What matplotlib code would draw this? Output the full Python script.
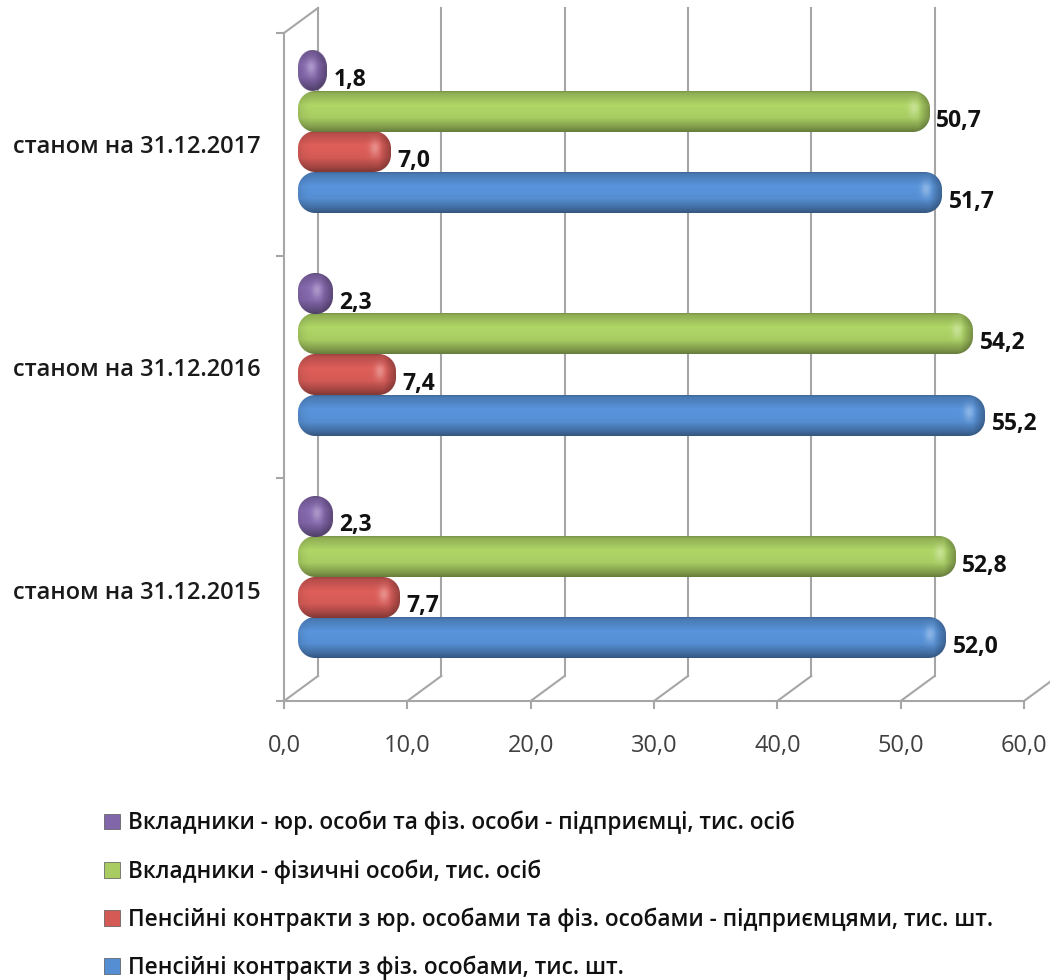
import numpy as np
import matplotlib
matplotlib.use("Agg")
import matplotlib.pyplot as plt
from matplotlib.patches import Patch

plt.rcParams['font.family'] = ['Open Sans', 'DejaVu Sans']

# DATA
categories = ["станом на 31.12.2015", "станом на 31.12.2016", "станом на 31.12.2017"]
series_names = [
    "Пенсійні контракти з фіз. особами, тис. шт.",
    "Пенсійні контракти з юр. особами та фіз. особами - підприємцями, тис. шт.",
    "Вкладники - фізичні особи, тис. осіб",
    "Вкладники - юр. особи та фіз. особи - підприємці, тис. осіб",
]
contracts_phys = [52.0, 55.2, 51.7]
contracts_legal = [7.7, 7.4, 7.0]
depositors_phys = [52.8, 54.2, 50.7]
depositors_legal = [2.3, 2.3, 1.8]
xtick_values = [0, 10, 20, 30, 40, 50, 60]

all_series = [contracts_phys, contracts_legal, depositors_phys, depositors_legal]
colors = ["#558ed2", "#d45a56", "#a8cc62", "#8266aa"]

GRID = "#a6a6a6"
DEPTH_X = 60 * 34 / 740     # the 3D wall sits behind the front axes plane
DEPTH_Y = 3 * 25 / 668
BAR_H = 0.182
PX_X = 740 / 60             # pixels per data unit
PX_Y = 668 / 3
CAP = 0.5                   # rounded end sticks out past the value
BAR_LEFT = 14 / PX_X


def bar_image(color, w, h):
    """RGBA picture of one rounded, shaded bar, w x h pixels"""
    base = np.array(matplotlib.colors.to_rgb(color))
    xx, yy = np.meshgrid(np.arange(w) + 0.5, np.arange(h) + 0.5)
    t = yy / h
    # vertical shading: dim rim on top, bright middle, dark bottom
    shade = np.interp(t, [0, 0.06, 0.35, 0.65, 0.88, 1], [0.72, 0.86, 1.05, 1.0, 0.76, 0.6])
    # darker at the right end, a bit at the left
    from_right = w - xx
    shade = shade * np.interp(from_right, [0, 6, 12], [0.68, 0.84, 1.0])
    shade = shade * np.interp(xx, [0, 5, 12], [0.9, 0.96, 1.0])
    rgb = np.clip(shade[..., None] * base, 0, 1)
    # small highlight near the end of the bar
    cx = w - min(16, w * 0.55)
    spot = np.exp(-((xx - cx) / 5.0) ** 2 - ((t - 0.42) * h / 8.0) ** 2)
    rgb = rgb + (1 - rgb) * 0.3 * spot[..., None]
    # rounded rectangle mask, corners turn elliptic on the short bars
    ry = h * 0.42
    rx = min(ry, w / 2)
    dx = np.maximum(np.maximum(rx - xx, xx - (w - rx)), 0) / rx
    dy = np.maximum(np.maximum(ry - yy, yy - (h - ry)), 0) / ry
    alpha = np.clip((1 - np.hypot(dx, dy)) * rx + 0.5, 0, 1)
    return np.dstack([rgb, alpha])


fig = plt.figure(figsize=(10.5, 9.8), dpi=100)
ax = fig.add_axes([284 / 1050, 279 / 980, 740 / 1050, 668 / 980])
ax.set_xlim(0, 60)
ax.set_ylim(0, 3)
ax.set_autoscale_on(False)

# back wall and floor lines
for x in xtick_values[:-1]:
    ax.plot([x + DEPTH_X, x + DEPTH_X], [DEPTH_Y, 3 + DEPTH_Y], color=GRID, lw=1.5, clip_on=False, zorder=1)
for x in xtick_values:
    ax.plot([x, x + DEPTH_X], [0, DEPTH_Y], color=GRID, lw=1.5, clip_on=False, zorder=1)
ax.plot([0, DEPTH_X], [3, 3 + DEPTH_Y], color=GRID, lw=1.5, clip_on=False, zorder=1)

# bars
for i, (vals, col) in enumerate(zip(all_series, colors)):
    for c, v in enumerate(vals):
        left = BAR_LEFT
        right = left + v + CAP
        yc = c + 0.5 + DEPTH_Y / 2 + (i - 1.5) * BAR_H
        w = int(round((right - left) * PX_X))
        h = int(round(BAR_H * PX_Y))
        ax.imshow(bar_image(col, w, h), extent=[left, right, yc - BAR_H / 2, yc + BAR_H / 2],
                  aspect="auto", interpolation="bilinear", clip_on=False, zorder=3 + i * 0.1 + c)
        ax.annotate(f"{v:.1f}".replace(".", ","), xy=(right, yc), xytext=(5, -6.5),
                    textcoords="offset points", ha="left", va="center",
                    fontsize=16.5, fontweight="bold", color="#111111", zorder=20)

ax.set_xlim(0, 60)
ax.set_ylim(0, 3)

for s in ["top", "right"]:
    ax.spines[s].set_visible(False)
for s in ["left", "bottom"]:
    ax.spines[s].set_color(GRID)
    ax.spines[s].set_linewidth(1.5)

ax.set_xticks(xtick_values)
ax.set_xticklabels([f"{x:.1f}".replace(".", ",") for x in xtick_values], fontsize=17, color="#404040")
ax.tick_params(axis="x", length=6, width=1.5, color=GRID, pad=18)
ax.set_yticks([0, 1, 2, 3])
ax.set_yticklabels([])
ax.tick_params(axis="y", which="major", length=6, width=1.5, color=GRID)
ax.set_yticks([0.5, 1.5, 2.5], minor=True)
ax.set_yticklabels(categories, minor=True, fontsize=17, color="#1a1a1a", fontweight="semibold")
ax.tick_params(axis="y", which="minor", length=0, pad=17)

handles = [Patch(facecolor=c, edgecolor="#555555", linewidth=0.5, label=n)
           for c, n in zip(colors[::-1], series_names[::-1])]
fig.legend(handles=handles, loc="upper left", bbox_to_anchor=(104 / 1050, 1 - 811 / 980),
           frameon=False, handlelength=0.7, handleheight=0.7, handletextpad=0.34,
           labelspacing=1.05, borderpad=0, borderaxespad=0, labelcolor="#111111",
           prop={"size": 16.3, "weight": "semibold"})

fig.savefig("out.png", dpi=100, facecolor="white")
